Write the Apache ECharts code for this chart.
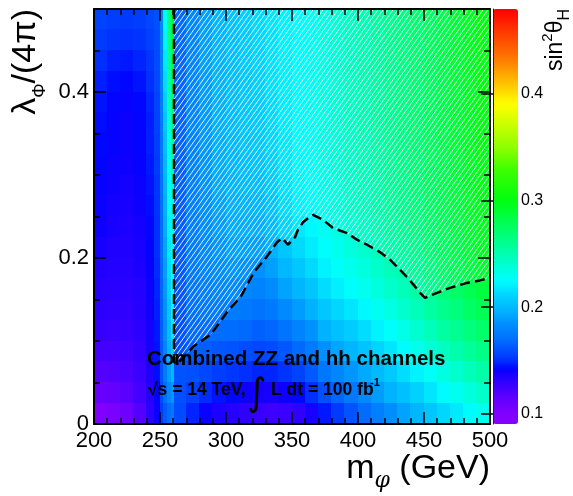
<!DOCTYPE html>
<html><head><meta charset="utf-8">
<script src="https://cdn.jsdelivr.net/npm/echarts@6/dist/echarts.min.js"></script>
<style>html,body{margin:0;padding:0;background:#fff}#c{width:573px;height:496px}</style>
</head><body><div id="c"></div>
<script>
// ---- data ----
// m_phi bin edges (GeV)
const mEdges = [200,210,220,230,240,246,250,253,256,259,261,270,280,290,300,310,320,330,340,350,360,370,380,390,400,410,420,430,440,450,460,470,480,490,500];
// lambda_Phi/(4pi) bin edges
const lamEdges = [0,0.025,0.05,0.075,0.1,0.125,0.15,0.175,0.2,0.225,0.25,0.275,0.3,0.325,0.35,0.375,0.4,0.425,0.45,0.475,0.5];
// sin^2(theta_H), rows from top (lambda 0.4875) to bottom (lambda 0.0125), one value per m bin
const sin2Rows = [
[0.156,0.154,0.153,0.154,0.157,0.160,0.180,0.225,0.268,0.302,0.168,0.180,0.190,0.198,0.204,0.209,0.213,0.217,0.221,0.225,0.229,0.234,0.239,0.244,0.249,0.254,0.259,0.264,0.269,0.275,0.281,0.287,0.293,0.299],
[0.153,0.151,0.150,0.151,0.155,0.159,0.179,0.222,0.265,0.298,0.168,0.180,0.190,0.198,0.203,0.208,0.212,0.216,0.221,0.225,0.229,0.234,0.239,0.244,0.249,0.254,0.259,0.264,0.269,0.275,0.281,0.287,0.293,0.299],
[0.150,0.147,0.146,0.148,0.152,0.158,0.178,0.218,0.260,0.292,0.167,0.180,0.190,0.197,0.203,0.208,0.211,0.216,0.220,0.225,0.229,0.234,0.239,0.244,0.249,0.254,0.259,0.264,0.269,0.275,0.281,0.287,0.293,0.299],
[0.147,0.144,0.143,0.145,0.150,0.157,0.177,0.214,0.254,0.285,0.167,0.180,0.189,0.197,0.202,0.207,0.210,0.215,0.220,0.225,0.229,0.234,0.239,0.244,0.249,0.254,0.259,0.264,0.269,0.275,0.281,0.287,0.293,0.299],
[0.145,0.142,0.141,0.143,0.148,0.156,0.176,0.210,0.248,0.278,0.166,0.180,0.189,0.196,0.202,0.207,0.209,0.214,0.219,0.225,0.229,0.234,0.239,0.244,0.249,0.254,0.259,0.264,0.269,0.275,0.281,0.287,0.293,0.299],
[0.144,0.141,0.140,0.142,0.147,0.155,0.175,0.206,0.242,0.271,0.166,0.180,0.188,0.196,0.201,0.206,0.208,0.213,0.219,0.224,0.228,0.234,0.239,0.244,0.249,0.254,0.259,0.264,0.269,0.275,0.281,0.287,0.293,0.299],
[0.143,0.141,0.140,0.142,0.147,0.154,0.174,0.203,0.237,0.264,0.166,0.179,0.188,0.195,0.200,0.205,0.207,0.212,0.218,0.224,0.228,0.233,0.238,0.243,0.248,0.253,0.258,0.263,0.269,0.275,0.281,0.287,0.293,0.299],
[0.142,0.140,0.139,0.141,0.146,0.153,0.173,0.200,0.232,0.258,0.165,0.179,0.187,0.194,0.199,0.203,0.205,0.210,0.217,0.223,0.227,0.233,0.238,0.243,0.248,0.253,0.258,0.263,0.268,0.274,0.280,0.286,0.292,0.298],
[0.141,0.139,0.138,0.140,0.145,0.152,0.172,0.198,0.228,0.252,0.165,0.178,0.186,0.193,0.198,0.201,0.202,0.208,0.216,0.222,0.226,0.232,0.237,0.242,0.247,0.252,0.257,0.262,0.268,0.274,0.280,0.286,0.292,0.298],
[0.140,0.138,0.137,0.139,0.144,0.151,0.171,0.196,0.224,0.247,0.164,0.178,0.185,0.191,0.196,0.198,0.199,0.205,0.214,0.221,0.225,0.231,0.236,0.241,0.246,0.251,0.256,0.261,0.267,0.273,0.279,0.285,0.291,0.297],
[0.139,0.137,0.136,0.138,0.143,0.150,0.170,0.194,0.221,0.243,0.164,0.177,0.184,0.189,0.194,0.195,0.195,0.201,0.211,0.218,0.223,0.229,0.234,0.239,0.244,0.249,0.254,0.259,0.265,0.271,0.277,0.283,0.289,0.295],
[0.137,0.135,0.135,0.137,0.142,0.150,0.169,0.192,0.218,0.239,0.163,0.176,0.182,0.187,0.191,0.191,0.190,0.196,0.206,0.213,0.219,0.226,0.231,0.236,0.241,0.246,0.251,0.256,0.262,0.269,0.275,0.281,0.287,0.293],
[0.135,0.134,0.134,0.136,0.141,0.149,0.168,0.190,0.215,0.234,0.163,0.175,0.180,0.184,0.187,0.186,0.185,0.190,0.199,0.206,0.213,0.221,0.226,0.231,0.236,0.242,0.247,0.252,0.258,0.265,0.272,0.278,0.284,0.290],
[0.133,0.132,0.132,0.134,0.140,0.148,0.167,0.188,0.211,0.229,0.162,0.173,0.177,0.180,0.182,0.180,0.179,0.183,0.191,0.198,0.205,0.214,0.220,0.225,0.230,0.236,0.241,0.247,0.253,0.260,0.267,0.273,0.279,0.285],
[0.131,0.130,0.130,0.133,0.139,0.147,0.166,0.186,0.207,0.224,0.161,0.171,0.174,0.175,0.176,0.174,0.172,0.175,0.182,0.189,0.196,0.206,0.212,0.217,0.223,0.229,0.234,0.241,0.247,0.254,0.261,0.267,0.273,0.279],
[0.128,0.127,0.128,0.131,0.138,0.146,0.165,0.184,0.203,0.218,0.160,0.168,0.169,0.169,0.169,0.168,0.165,0.167,0.172,0.179,0.186,0.196,0.203,0.208,0.214,0.221,0.226,0.233,0.240,0.247,0.254,0.260,0.266,0.272],
[0.124,0.124,0.125,0.129,0.137,0.145,0.163,0.180,0.197,0.210,0.160,0.165,0.164,0.162,0.161,0.159,0.157,0.158,0.162,0.168,0.175,0.185,0.192,0.198,0.204,0.211,0.217,0.224,0.231,0.238,0.245,0.251,0.257,0.263],
[0.119,0.120,0.122,0.127,0.135,0.144,0.161,0.176,0.190,0.200,0.161,0.160,0.157,0.154,0.152,0.150,0.148,0.148,0.151,0.156,0.163,0.173,0.180,0.187,0.193,0.200,0.207,0.214,0.221,0.228,0.235,0.241,0.247,0.253],
[0.111,0.113,0.117,0.124,0.133,0.142,0.158,0.170,0.181,0.188,0.160,0.155,0.149,0.145,0.143,0.140,0.138,0.137,0.139,0.143,0.150,0.160,0.167,0.174,0.181,0.189,0.196,0.203,0.210,0.217,0.224,0.230,0.236,0.242],
[0.100,0.103,0.109,0.119,0.131,0.140,0.154,0.163,0.170,0.175,0.158,0.148,0.140,0.136,0.133,0.130,0.128,0.126,0.127,0.130,0.137,0.146,0.153,0.161,0.169,0.177,0.184,0.191,0.198,0.205,0.212,0.218,0.224,0.230]
];
// exclusion boundary (dashed line), hatched region lies above it
const boundaryM   = [260.6,260.6,262.9,275.8,288.6,300.8,311.4,321.2,331.1,338.6,342.4,347.0,352.3,354.5,358.3,361.4,365.9,373.5,381.1,391.7,399.2,406.8,416.7,424.2,431.8,439.4,447.0,450.8,459.8,469.7,482.6,492.4,500];
const boundaryLam = [0.5,0.0747,0.0723,0.094,0.108,0.135,0.154,0.183,0.202,0.219,0.224,0.216,0.225,0.234,0.243,0.247,0.252,0.246,0.236,0.230,0.222,0.216,0.207,0.198,0.186,0.173,0.158,0.152,0.158,0.164,0.170,0.173,0.176];
// colour scale range and ticks
const zMin = 0.0907, zMax = 0.479;
const zTicks = [0.1, 0.2, 0.3, 0.4];
const xRange = [200, 500], yRange = [0, 0.5];
// palette stops (value -> colour) of the colour bar
const palV = [0.0907,0.100,0.115,0.125,0.135,0.142,0.150,0.160,0.170,0.185,0.195,0.210,0.220,0.225,0.240,0.255,0.270,0.285,0.300,0.330,0.345,0.370,0.390,0.410,0.430,0.455,0.479];
const palC = ['#8800ff','#8000ff','#6000ff','#4000ff','#2000ff','#0000ff','#0030ff','#0050ff','#0070ff','#0090ff','#00b0ff','#00d0ff','#00f0ff','#00ffff','#00ffd0','#00ffa0','#00ff70','#00ff40','#00ff10','#40ff00','#80ff00','#c8ff00','#ffff00','#ffc000','#ff8000','#ff4000','#ff0000'];

// ---- build ----
function hex2rgb(h){ return [parseInt(h.slice(1,3),16), parseInt(h.slice(3,5),16), parseInt(h.slice(5,7),16)]; }
function colorAt(v){
  let i = 0; while (i < palV.length - 2 && v > palV[i+1]) i++;
  const t = Math.max(0, Math.min(1, (v - palV[i]) / (palV[i+1] - palV[i])));
  const a = hex2rgb(palC[i]), b = hex2rgb(palC[i+1]);
  return 'rgb(' + a.map((x,k)=>Math.round(x + (b[k]-x)*t)).join(',') + ')';
}
const NPAL = 120;
const palette = [];
for (let k = 0; k < NPAL; k++) palette.push(colorAt(zMin + (zMax - zMin) * k / (NPAL - 1)));

const heatData = [];
const nL = lamEdges.length;
sin2Rows.forEach((row, r) => {
  const hi = lamEdges[nL - 1 - r], lo = lamEdges[nL - 2 - r];
  row.forEach((v, c) => heatData.push([mEdges[c], mEdges[c + 1], lo, hi, v]));
});

function makeHatch() {
  const w = 5, h = 7;
  const cv = document.createElement('canvas'); cv.width = w; cv.height = h;
  const g = cv.getContext('2d');
  g.strokeStyle = '#ffffff'; g.lineWidth = 0.9;
  for (const dx of [-w, 0, w]) { g.beginPath(); g.moveTo(dx, h); g.lineTo(dx + w, 0); g.stroke(); }
  return cv;
}
const hatch = makeHatch();

const FONT = '"Liberation Sans", Arial, Helvetica, sans-serif';
const mctx = document.createElement('canvas').getContext('2d');
function tw(t, size, weight, style, fam) { mctx.font = `${style||'normal'} ${weight||'normal'} ${size}px ${fam||FONT}`; return mctx.measureText(t).width; }
function piecesWidth(p) { return p.map(q => tw(q.t, q.size, q.weight, q.style, q.fam)); }
function mkText(q, x, y) {
  return {type:'text', z:100, x, y, style:{text:q.t, fontSize:q.size, fontWeight:q.weight||'normal', fontStyle:q.style||'normal', fontFamily:q.fam||FONT, fill:'#000', align:'left', verticalAlign:'middle'}};
}
function hTitle(p, rx, by) {
  const ws = piecesWidth(p); let x = rx - ws.reduce((a,b)=>a+b,0);
  return p.map((q,i) => { const e = mkText(q, x, by + (q.dy||0) - 0.3465*q.size); x += ws[i]; return e; });
}
function vTitle(p, bx, ty) {
  const ws = piecesWidth(p); let lx = -ws.reduce((a,b)=>a+b,0);
  const ch = p.map((q,i) => { const e = mkText(q, lx, (q.dy||0) - 0.3465*q.size); lx += ws[i]; return e; });
  return {type:'group', z:100, x: bx, y: ty, rotation: Math.PI/2, children: ch};
}

const blk = '#000';
function axisCommon(extra) {
  return Object.assign({type:'value', z:10, splitLine:{show:false}, axisLine:{show:true, onZero:false, lineStyle:{color:blk, width:2}},
    axisTick:{show:true, inside:true, length:12, lineStyle:{color:blk, width:1.5}}, axisLabel:{show:false}}, extra);
}

const option = {
  animation:false, backgroundColor:'#fff',
  grid:[{left:94, top:9, width:396, height:415}, {left:493, top:9, width:25, height:415}],
  xAxis:[
    axisCommon({gridIndex:0, min:xRange[0], max:xRange[1], interval:50, position:'bottom',
      minorTick:{show:true, splitNumber:5, length:6, lineStyle:{color:blk, width:1.5}},
      axisLabel:{show:true, fontSize:22, color:blk, margin:6, fontFamily:FONT}}),
    axisCommon({gridIndex:0, min:xRange[0], max:xRange[1], interval:50, position:'top',
      minorTick:{show:true, splitNumber:5, length:6, lineStyle:{color:blk, width:1.5}}}),
    {gridIndex:1, type:'value', min:0, max:1, show:false}
  ],
  yAxis:[
    axisCommon({gridIndex:0, min:yRange[0], max:yRange[1], interval:0.2, position:'left',
      axisLabel:{show:true, fontSize:22, color:blk, margin:5, fontFamily:FONT, showMaxLabel:false, formatter:v=>String(+v.toFixed(2))}}),
    axisCommon({gridIndex:0, min:yRange[0], max:yRange[1], interval:0.05, position:'left', axisLine:{show:false}, axisTick:{show:true, inside:true, length:6, lineStyle:{color:blk, width:1.5}}}),
    axisCommon({gridIndex:0, min:yRange[0], max:yRange[1], interval:0.2, position:'right'}),
    axisCommon({gridIndex:0, min:yRange[0], max:yRange[1], interval:0.05, position:'right', axisLine:{show:false}, axisTick:{show:true, inside:true, length:6, lineStyle:{color:blk, width:1.5}}}),
    {gridIndex:1, type:'value', min:zMin, max:zMax, position:'right', z:10, splitLine:{show:false},
      axisLine:{show:true, lineStyle:{color:'#222', width:1}},
      axisTick:{show:true, inside:true, length:12, customValues:zTicks, lineStyle:{color:blk, width:1.5}},
      axisLabel:{show:true, customValues:zTicks, fontSize:16, color:blk, margin:3, fontFamily:FONT, formatter:v=>String(+v.toFixed(2))}}
  ],
  visualMap:{type:'continuous', min:zMin, max:zMax, dimension:4, seriesIndex:0, calculable:false, realtime:false, hoverLink:false,
    inRange:{color:palette}, left:493, top:9, itemWidth:25, itemHeight:415, padding:0, orient:'vertical'},
  series:[
    {type:'custom', xAxisIndex:0, yAxisIndex:0, data:heatData, encode:{x:[0,1], y:[2,3]}, clip:true, z:1, silent:true,
     renderItem:(params, api) => {
       const p0 = api.coord([api.value(0), api.value(3)]);
       const p1 = api.coord([api.value(1), api.value(2)]);
       const x = Math.floor(p0[0]), y = Math.floor(p0[1]);
       return {type:'rect', shape:{x, y, width:Math.ceil(p1[0]) - x + 1, height:Math.ceil(p1[1]) - y + 1}, style:{fill:api.visual('color'), stroke:null}};
     }},
    {type:'custom', xAxisIndex:0, yAxisIndex:0, data:[[boundaryM[0], boundaryLam[0]]], encode:{x:0, y:1}, clip:true, z:2, silent:true,
     renderItem:(params, api) => {
       const pts = boundaryM.map((m,i) => api.coord([m, boundaryLam[i]]));
       pts.push(api.coord([xRange[1], yRange[1]]));
       return {type:'polygon', shape:{points:pts}, style:{fill:{image:hatch, repeat:'repeat'}, stroke:null}};
     }},
    {type:'line', xAxisIndex:0, yAxisIndex:0, data:boundaryM.map((m,i)=>[m, boundaryLam[i]]), symbol:'none', z:3, silent:true,
     lineStyle:{color:'#000', width:2.5, type:[10,5]}}
  ],
  graphic:[
    ...hTitle([{t:'m', size:34}, {t:'φ', size:22, style:'italic', fam:'"DejaVu Serif", serif', dy:9}, {t:' (GeV)', size:34}], 490, 480),
    vTitle([{t:'λ', size:34}, {t:'Φ', size:18, dy:9}, {t:'/(4π)', size:34}], 37, 9),
    vTitle([{t:'sin', size:23}, {t:'2', size:15, dy:-11}, {t:'θ', size:23}, {t:'H', size:16, dy:6}], 564, 9),
    mkText({t:'Combined ZZ and hh channels', size:20.5, weight:'bold'}, 147, 359.5),
    mkText({t:'√s = 14 TeV,', size:17.5, weight:'bold'}, 148, 390),
    mkText({t:'∫', size:38, fam:'"DejaVu Sans", sans-serif'}, 247, 395),
    mkText({t:'L dt = 100 fb', size:17.5, weight:'bold'}, 271, 390),
    mkText({t:'-1', size:11, weight:'bold'}, 370, 383)
  ]
};
const chart = echarts.init(document.getElementById('c'), null, {renderer:'canvas'});
chart.setOption(option);
</script></body></html>
